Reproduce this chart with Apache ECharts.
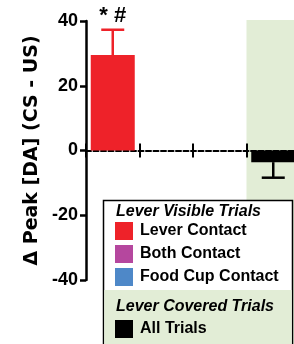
<!DOCTYPE html>
<html><head><meta charset="utf-8">
<script src="https://cdn.jsdelivr.net/npm/echarts@6/dist/echarts.min.js"></script>
<style>html,body{margin:0;padding:0;background:#fff;overflow:hidden;width:294px;height:344px}#c{width:302px;height:344px}</style>
</head><body><div id="c"></div>
<script>
// ---- data ----
const categories = ['Lever Contact', 'Both Contact', 'Food Cup Contact', 'All Trials'];
const means = [29.5, null, null, -3.6];
const errors = [7.8, null, null, 4.8];
const annotations = ['* #', '', '', ''];
const colors = ['#ee2229', '#b5479e', '#4e88c8', '#000000'];
const yMin = -40, yMax = 40, yStep = 20;
const yTitle = '\u0394 Peak [DA] (CS - US)';
const visibleTitle = 'Lever Visible Trials';
const coveredTitle = 'Lever Covered Trials';
const visibleItems = ['Lever Contact', 'Both Contact', 'Food Cup Contact'];
const coveredItems = ['All Trials'];

const GREEN = '#e2edd6';
const FONT = '"Liberation Sans", Arial, sans-serif';

const chart = echarts.init(document.getElementById('c'), null, {renderer: 'canvas'});

const barSeries = categories.map((name, i) => ({
  type: 'bar', name: name, stack: 'all',
  barWidth: 44,
  itemStyle: {color: colors[i]},
  data: categories.map((c, j) => j === i ? means[i] : null),
  z: 3
}));

const errData = means.map((m, i) => m == null ? null : [i, m, errors[i]]).filter(d => d);

const errSeries = {
  type: 'custom',
  name: 'err',
  z: 4,
  data: errData,
  encode: {x: 0, y: 1},
  renderItem: function (params, api) {
    const idx = api.value(0), m = api.value(1), e = api.value(2);
    const sign = m >= 0 ? 1 : -1;
    const p0 = api.coord([idx, m]);
    const p1 = api.coord([idx, m + sign * e]);
    const half = 11.5;
    const col = colors[idx];
    const children = [
      {type: 'line', shape: {x1: p0[0], y1: p0[1], x2: p1[0], y2: p1[1]}, style: {stroke: col, lineWidth: 2.5}},
      {type: 'line', shape: {x1: p1[0] - half, y1: p1[1], x2: p1[0] + half, y2: p1[1]}, style: {stroke: col, lineWidth: 2.5}}
    ];
    const ann = annotations[idx];
    if (ann) {
      children.push({type: 'text', x: p1[0], y: p1[1] - 14,
        style: {text: ann, font: 'bold 22px ' + FONT, fill: '#000', align: 'center', verticalAlign: 'middle'}});
    }
    return {type: 'group', children: children};
  }
};

const xAxisBase = {
  type: 'category', data: categories,
  boundaryGap: true,
  axisLabel: {show: false, interval: 0},
  splitLine: {show: false}
};

chart.setOption({
  animation: false,
  backgroundColor: '#fff',
  grid: {left: 86, top: 21, width: 214, height: 259, containLabel: false},
  xAxis: [
    Object.assign({}, xAxisBase, {
      position: 'bottom',
      axisLine: {show: true, onZero: true, onZeroAxisIndex: 0, lineStyle: {color: '#000', width: 2, type: [5, 2.5]}},
      axisTick: {show: true, interval: 0, alignWithLabel: false, length: 7, lineStyle: {color: '#000', width: 2, type: 'solid'}}
    }),
    Object.assign({}, xAxisBase, {
      position: 'top',
      axisLine: {show: true, onZero: true, onZeroAxisIndex: 1, lineStyle: {color: 'rgba(0,0,0,0)', width: 0}},
      axisTick: {show: true, interval: 0, alignWithLabel: false, length: 7, lineStyle: {color: '#000', width: 2, type: 'solid'}}
    })
  ],
  yAxis: [{
    type: 'value', min: yMin, max: yMax, interval: yStep,
    axisLine: {show: true, lineStyle: {color: '#000', width: 2.5}},
    axisTick: {show: true, length: 6, lineStyle: {color: '#000', width: 2.5}},
    axisLabel: {color: '#000', fontWeight: 'bold', fontSize: 18, fontFamily: FONT, margin: 8},
    splitLine: {show: false},
    name: yTitle, nameLocation: 'middle', nameGap: 43, nameRotate: 90,
    nameTextStyle: {color: '#000', fontWeight: 'bold', fontSize: 19, fontFamily: '"DejaVu Sans", sans-serif'}
  }, {
    type: 'value', min: yMin, max: yMax, interval: yStep, position: 'left',
    axisLine: {show: false}, axisTick: {show: false}, axisLabel: {show: false}, splitLine: {show: false}
  }],
  legend: [
    {data: visibleItems, orient: 'vertical', left: 115, top: 222, padding: 0,
      itemWidth: 18, itemHeight: 18, itemGap: 5, icon: 'rect', selectedMode: false, z: 200,
      textStyle: {color: '#000', fontWeight: 'bold', fontSize: 16, fontFamily: FONT, padding: [0, 0, 0, 2]}},
    {data: coveredItems, orient: 'vertical', left: 115, top: 320, padding: 0,
      itemWidth: 18, itemHeight: 18, itemGap: 5, icon: 'rect', selectedMode: false, z: 200,
      textStyle: {color: '#000', fontWeight: 'bold', fontSize: 16, fontFamily: FONT, padding: [0, 0, 0, 2]}}
  ],
  series: barSeries.concat([errSeries])
});

// shaded region for the covered-trial category, computed from the axis scale
const c2 = chart.convertToPixel({xAxisIndex: 0}, 2);
const c3 = chart.convertToPixel({xAxisIndex: 0}, 3);
const bandStart = (c2 + c3) / 2;
const yTop = chart.convertToPixel({yAxisIndex: 0}, yMax) - 1;

chart.setOption({
  graphic: [
    {type: 'rect', z: 0, silent: true, shape: {x: bandStart, y: yTop, width: 400, height: 400}, style: {fill: GREEN}},
    {type: 'rect', z: 150, silent: true, shape: {x: 103.5, y: 200.5, width: 189, height: 200}, style: {fill: '#fff', stroke: '#000', lineWidth: 1.5}},
    {type: 'rect', z: 151, silent: true, shape: {x: 104.25, y: 290, width: 187.5, height: 100}, style: {fill: GREEN}},
    {type: 'text', z: 152, x: 116, y: 212, style: {text: visibleTitle, font: 'italic bold 16px ' + FONT, fill: '#000', verticalAlign: 'middle'}},
    {type: 'text', z: 152, x: 116, y: 307, style: {text: coveredTitle, font: 'italic bold 16px ' + FONT, fill: '#000', verticalAlign: 'middle'}}
  ]
});
</script>
</body></html>
